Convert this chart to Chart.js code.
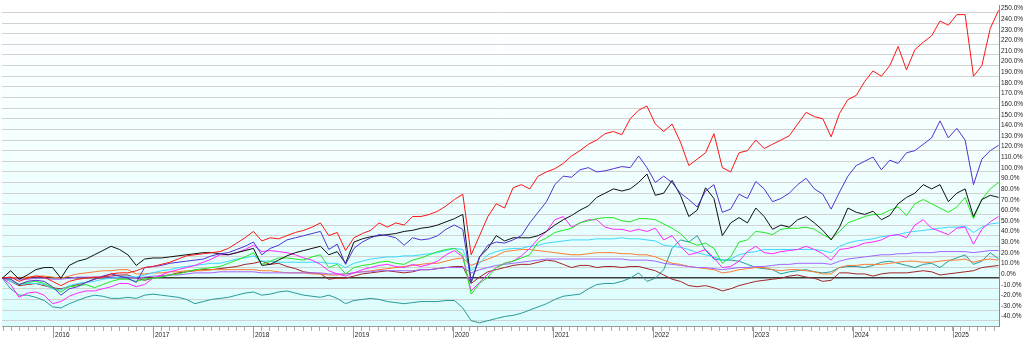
<!DOCTYPE html>
<html>
<head>
<meta charset="utf-8">
<script src="https://cdn.jsdelivr.net/npm/chart.js@4.4.1/dist/chart.umd.min.js"></script>
<style>
  html, body { margin: 0; padding: 0; background: #ffffff; }
  #wrap { width: 1024px; height: 338px; position: relative; }
</style>
</head>
<body>
<div id="wrap"><canvas id="perf"></canvas></div>
<script>
// Sample span (decimal years) and roughly monthly samples across it
const firstSample = 2015.49;
const lastSample = 2025.46;
const sampleCount = 120;
const sampleTimes = Array.from({ length: sampleCount }, (_, i) =>
  firstSample + i * (lastSample - firstSample) / (sampleCount - 1));

const yearLabels = ['2016', '2017', '2018', '2019', '2020', '2021', '2022', '2023', '2024', '2025'];
const yTicks = [-40, -30, -20, -10, 0, 10, 20, 30, 40, 50, 60, 70, 80, 90, 100, 110, 120, 130, 140, 150,
  160, 170, 180, 190, 200, 210, 220, 230, 240, 250];

// Cumulative change (%) of each series
const redSeries = [
  0, 1, -3, 0, 2, 1, -3, -7, -3, -1,
  0, 1, 1, 4, 5, 5, 7, 10, 11, 13,
  15, 18, 21, 22, 23, 24, 25, 28, 33, 38,
  44, 35, 38, 37, 40, 43, 45, 48, 52, 40,
  43, 26, 38, 42, 45, 52, 48, 52, 50, 58,
  58, 60, 63, 68, 74, 79, 22, 40, 58, 70,
  66, 85, 88, 84, 96, 100, 103, 108, 115, 120,
  126, 130, 136, 138, 135, 150, 158, 162, 145, 138,
  145, 128, 106, 112, 118, 136, 104, 100, 118, 120,
  130, 122, 126, 130, 134, 145, 156, 152, 150, 133,
  155, 168, 172, 185, 195, 190, 200, 218, 196, 215,
  222, 228, 242, 238, 248, 248, 190, 200, 235, 252
];
const blueSeries = [
  0, -1, -6, -3, -2, -3, -8, -16, -10, -8,
  -4, -1, 2, 4, 2, 0, -4, 10, 11, 12,
  14, 15, 16, 17, 18, 21, 23, 24, 27, 30,
  34, 22, 28, 31, 36, 38, 40, 42, 44, 27,
  32, 13, 28, 34, 38, 41, 40, 38, 31, 38,
  36, 37, 40, 46, 50, 46, -4, 20, 31, 34,
  33, 36, 40, 52, 62, 72, 88, 96, 95, 102,
  104, 100, 101, 103, 105, 104, 115, 104, 90, 96,
  90, 80, 74, 67, 82, 88, 62, 65, 79, 75,
  91, 84, 72, 75, 80, 88, 94, 84, 79, 65,
  81, 96, 106, 110, 114, 102, 111, 108, 118, 120,
  126, 132, 148, 132, 141, 130, 88, 112, 120, 125
];
const blackSeries = [
  0, 7, -1, 3, 8, 10, 10, 0, 12, 16,
  18, 22, 26, 30, 27, 22, 12, 18, 19, 19,
  20, 21, 22, 23, 24, 24, 23, 22, 24, 26,
  28, 12, 13, 17, 21, 24, 26, 28, 30, 22,
  25, 14, 34, 37, 39, 40, 41, 42, 44, 45,
  47, 48, 50, 53, 56, 60, -4, 20, 28, 40,
  35, 38, 38, 38, 40, 44, 50, 55, 59, 64,
  68, 76, 80, 84, 82, 84, 90, 98, 78, 80,
  92, 78, 58, 64, 85, 75, 40, 52, 57, 52,
  66, 58, 46, 50, 48, 55, 58, 52, 45, 36,
  48, 66, 62, 60, 63, 55, 59, 70, 76, 80,
  88, 84, 88, 72, 80, 84, 58, 74, 78, 76
];
const greenSeries = [
  0, -1, -6, -4, -3, -5, -9, -13, -8, -7,
  -6, -9, -6, -3, -1, -1, -3, -1, 0, 1,
  3, 4, 6, 8, 9, 10, 11, 14, 17, 20,
  24, 13, 16, 19, 19, 18, 17, 20, 22, 10,
  13, 4, 10, 12, 13, 15, 16, 14, 13, 17,
  19, 22, 25, 27, 28, 22, -15, -5, 1, 10,
  14, 16, 19, 22, 34, 38, 43, 45, 47, 52,
  54, 56, 57, 57, 54, 53, 56, 56, 55, 51,
  47, 42, 34, 31, 33, 28, 14, 20, 34, 36,
  44, 43, 41, 46, 47, 47, 48, 46, 41, 37,
  44, 52, 55, 58, 60, 60, 64, 67, 59, 70,
  74, 70, 66, 62, 67, 76, 56, 74, 84, 90
];
const magentaSeries = [
  0, -6, -18, -14, -13, -16, -24, -22, -17, -14,
  -12, -12, -10, -8, -5, -5, -8, -6, 0, 3,
  6, 8, 10, 12, 15, 18, 22, 22, 24, 27,
  31, 25, 26, 25, 24, 22, 19, 17, 13, 7,
  4, 2, 5, 8, 10, 12, 13, 11, 10, 13,
  11, 13, 16, 22, 26, 20, -12, -4, 4, 10,
  14, 16, 21, 28, 37, 44, 55, 58, 48, 52,
  55, 55, 48, 46, 46, 44, 46, 44, 47, 36,
  40, 30, 22, 24, 27, 19, 10, 11, 16, 25,
  30, 24, 23, 25, 26, 27, 30, 27, 23, 17,
  27, 28, 30, 33, 34, 36, 40, 41, 38, 50,
  55, 47, 44, 41, 47, 48, 32, 46, 53, 58
];
const cyanSeries = [
  0, -3, -6, -5, -5, -6, -10, -11, -7, -5,
  -4, -3, -1, 0, 1, 2, 1, 3, 5, 7,
  8, 10, 11, 12, 13, 14, 14, 16, 18, 19,
  21, 16, 16, 15, 15, 15, 15, 15, 15, 14,
  14, 10, 14, 16, 18, 19, 20, 20, 21, 21,
  22, 23, 24, 26, 28, 27, 7, 14, 22, 25,
  27, 28, 28, 30, 31, 33, 34, 35, 36, 36,
  36, 37, 37, 37, 38, 37, 37, 36, 35, 31,
  30, 29, 27, 24, 22, 20, 17, 18, 22, 24,
  25, 27, 27, 27, 27, 27, 27, 27, 26, 24,
  30, 33, 35, 36, 37, 39, 40, 41, 43, 44,
  45, 46, 47, 48, 48, 49, 43, 48, 51, 52
];
const purpleSeries = [
  0, 0, -1, -1, 0, 0, -1, -1, 0, 1,
  1, 1, 1, 1, 1, 1, 0, 1, 2, 2,
  3, 3, 4, 5, 5, 5, 6, 6, 6, 6,
  6, 5, 5, 5, 5, 5, 5, 5, 5, 4,
  4, 4, 5, 6, 6, 7, 7, 7, 7, 7,
  8, 8, 9, 10, 10, 10, 5, 8, 10, 12,
  13, 14, 15, 16, 17, 18, 18, 18, 18, 18,
  18, 18, 18, 18, 18, 17, 17, 17, 16, 14,
  13, 12, 11, 10, 10, 9, 8, 9, 10, 10,
  11, 11, 12, 13, 13, 14, 14, 14, 14, 13,
  16, 18, 19, 20, 21, 22, 22, 23, 23, 24,
  24, 24, 25, 25, 25, 25, 24, 25, 26, 26
];
const orangeSeries = [
  0, 1, 0, 1, 2, 2, 1, 0, 2, 4,
  5, 6, 7, 7, 8, 8, 4, 4, 5, 5,
  6, 6, 7, 7, 7, 8, 8, 8, 8, 8,
  8, 7, 7, 6, 5, 5, 5, 4, 4, 3,
  3, 4, 5, 6, 7, 8, 9, 10, 11, 12,
  13, 14, 14, 16, 18, 19, 12, 15, 18, 21,
  25, 26, 27, 27, 26, 25, 24, 23, 22, 22,
  23, 24, 24, 24, 23, 23, 22, 22, 20, 17,
  14, 13, 11, 10, 9, 8, 5, 6, 8, 9,
  10, 10, 8, 7, 8, 8, 7, 6, 4, 4,
  10, 12, 12, 13, 13, 13, 14, 15, 16, 16,
  15, 15, 16, 17, 17, 18, 15, 17, 18, 17
];
const tealSeries = [
  0, -10, -16, -16, -18, -21, -27, -28, -24, -21,
  -18, -16, -17, -19, -19, -18, -19, -16, -15, -16,
  -17, -18, -20, -24, -22, -20, -19, -18, -16, -14,
  -13, -16, -15, -13, -12, -14, -16, -17, -18, -16,
  -19, -24, -21, -20, -19, -20, -22, -23, -24, -23,
  -22, -22, -22, -21, -21, -28, -40, -42, -40, -38,
  -36, -35, -33, -30, -27, -24, -20, -17, -16, -15,
  -10, -6, -5, -5, -3, 0, 5, -3, 0, 8,
  28, 36, 34, 40, 26, 18, 17, 17, 16, 13,
  10, 9, 8, 4, 6, 7, 8, 6, 5, 6,
  10, 11, 11, 10, 12, 15, 16, 14, 12, 10,
  13, 14, 10, 16, 19, 22, 13, 16, 24, 18
];
const brownSeries = [
  0, -3, -7, -6, -5, -7, -9, -10, -8, -6,
  -4, -1, 1, 2, 3, 3, 0, -2, 0, 2,
  3, 5, 6, 7, 8, 8, 9, 10, 11, 13,
  14, 16, 13, 14, 11, 9, 6, 5, 4, -1,
  0, 0, 2, 4, 5, 6, 7, 6, 5, 6,
  8, 8, 9, 10, 11, 11, -5, 1, 6, 8,
  10, 12, 13, 13, 15, 17, 16, 13, 10, 12,
  12, 10, 11, 11, 10, 11, 11, 9, 7, 3,
  -1, -3, -7, -8, -7, -9, -12, -10, -7, -5,
  -3, -2, -1, 0, 2, 3, 1, 0, -3, -2,
  5, 5, 4, 4, 2, 4, 5, 5, 5, 6,
  7, 6, 3, 4, 5, 6, 7, 10, 11, 12
];

const seriesList = [
  { values: redSeries, color: '#ff1414' },
  { values: blueSeries, color: '#5232d2' },
  { values: blackSeries, color: '#101010' },
  { values: greenSeries, color: '#22e822' },
  { values: magentaSeries, color: '#ff26ff' },
  { values: cyanSeries, color: '#3cd8ff' },
  { values: purpleSeries, color: '#a464ff' },
  { values: orangeSeries, color: '#ff7a30' },
  { values: tealSeries, color: '#2a9a9a' },
  { values: brownSeries, color: '#a42424' }
];

const xMin = 2015.487;
const xMax = 2025.464;

// Month ticks along the time axis
const monthTicks = [];
for (let y = 2015; y <= 2025; y++) {
  for (let m = 0; m < 12; m++) {
    const v = y + m / 12;
    if (v >= xMin && v <= xMax) monthTicks.push(v);
  }
}

const backdrop = {
  id: 'backdrop',
  beforeDraw(chart) {
    const { ctx, chartArea: a } = chart;
    const g = ctx.createLinearGradient(0, a.top, 0, a.bottom);
    g.addColorStop(0, '#ffffff');
    g.addColorStop(0.45, '#f4ffff');
    g.addColorStop(1, '#dafdfd');
    ctx.save();
    ctx.fillStyle = g;
    ctx.fillRect(a.left, a.top, a.right - a.left, a.bottom - a.top);
    ctx.restore();
  },
  afterDraw(chart) {
    // longer marks at each new year
    const { ctx, chartArea: a } = chart;
    const xs = chart.scales.x;
    ctx.save();
    ctx.strokeStyle = '#999999';
    ctx.lineWidth = 1;
    yearLabels.forEach(lbl => {
      const px = Math.round(xs.getPixelForValue(Number(lbl))) + 0.5;
      ctx.beginPath();
      ctx.moveTo(px, a.bottom);
      ctx.lineTo(px, a.bottom + 12);
      ctx.stroke();
    });
    ctx.restore();
  }
};

new Chart(document.getElementById('perf'), {
  type: 'line',
  data: {
    datasets: seriesList.map(s => ({
      data: s.values.map((v, i) => ({ x: sampleTimes[i], y: v })),
      borderColor: s.color,
      borderWidth: 1,
      pointRadius: 0,
      tension: 0,
      fill: false
    }))
  },
  options: {
    responsive: true,
    maintainAspectRatio: false,
    animation: false,
    devicePixelRatio: 1,
    layout: { padding: { left: 2, top: 0, right: 0, bottom: 0 } },
    plugins: { legend: { display: false }, tooltip: { enabled: false } },
    scales: {
      x: {
        type: 'linear',
        min: xMin,
        max: xMax,
        afterBuildTicks: s => { s.ticks = monthTicks.map(v => ({ value: v })); },
        afterFit: s => { s.height = 12; },
        grid: { drawOnChartArea: false, drawTicks: true, tickLength: 5, tickColor: '#aaaaaa' },
        border: { display: true, color: '#999999' },
        ticks: {
          autoSkip: false,
          maxRotation: 0,
          padding: 0,
          labelOffset: 9,
          color: '#222222',
          font: { family: 'Liberation Sans, Arial, sans-serif', size: 6.5 },
          callback: v => {
            const r = Math.round(v);
            return Math.abs(v - r) < 1e-6 && yearLabels.includes(String(r)) ? String(r) : '';
          }
        }
      },
      y: {
        position: 'right',
        min: -45,
        max: 256.2,
        afterBuildTicks: s => { s.ticks = yTicks.map(v => ({ value: v })); },
        afterFit: s => { s.width = 25; },
        grid: {
          drawTicks: false,
          color: c => (c.tick && c.tick.value === 0 ? '#3c3c3c' : '#d2d2d2'),
          lineWidth: c => (c.tick && c.tick.value === 0 ? 1.5 : 1)
        },
        border: { display: true, color: '#8a8a8a' },
        ticks: {
          padding: 2,
          labelOffset: -4,
          color: '#222222',
          font: { family: 'Liberation Sans, Arial, sans-serif', size: 6.5 },
          callback: v => v.toFixed(1) + '%'
        }
      }
    }
  },
  plugins: [backdrop]
});
</script>
</body>
</html>
